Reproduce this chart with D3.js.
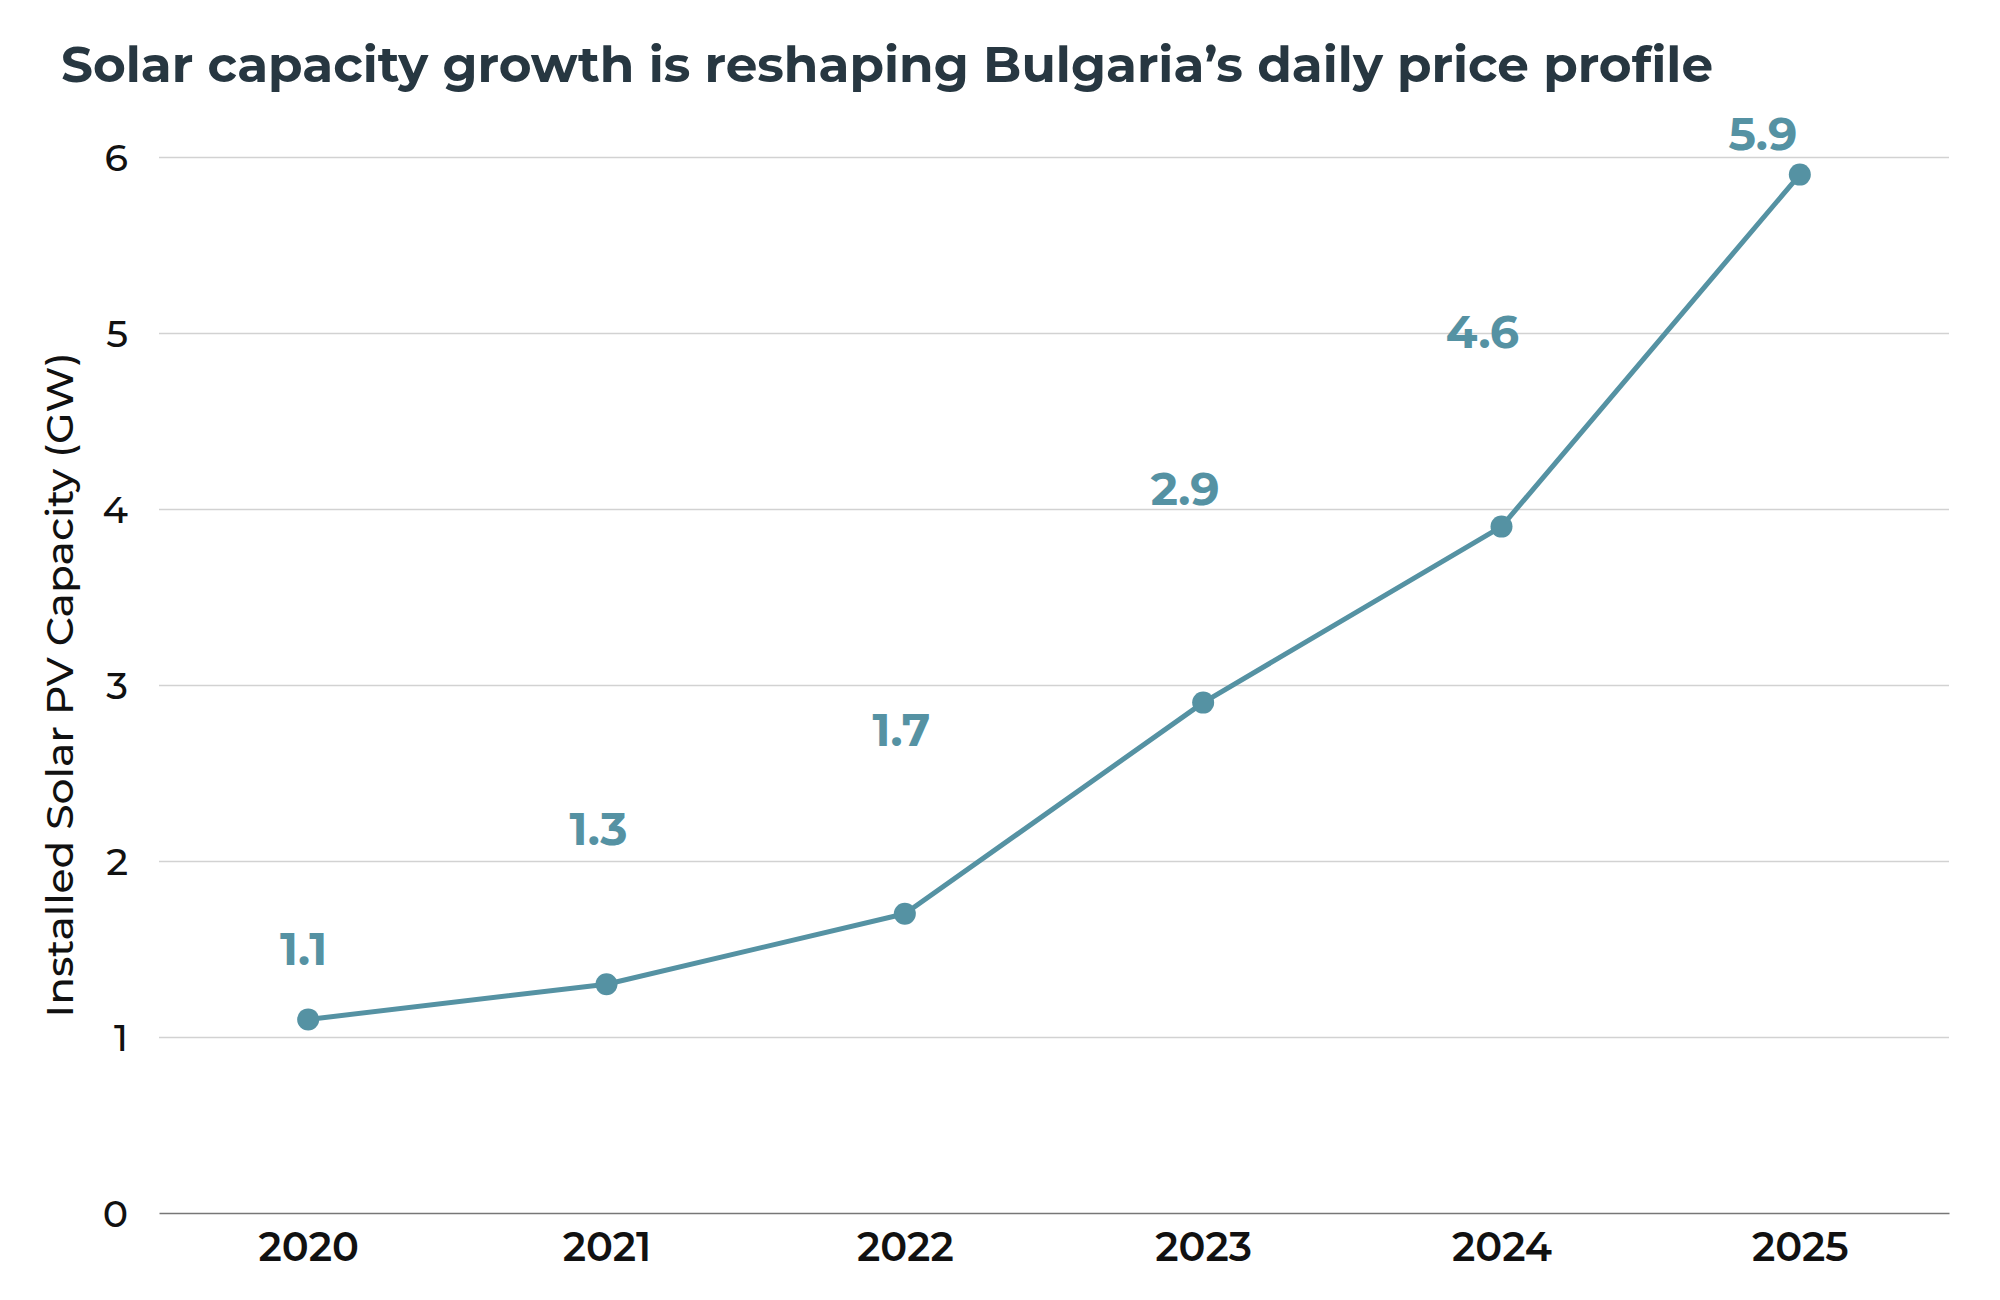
<!DOCTYPE html>
<html>
<head>
<meta charset="utf-8">
<script src="https://cdn.jsdelivr.net/npm/d3@7"></script>
<style>
  html, body { margin: 0; padding: 0; background: #ffffff; }
  svg { display: block; }
</style>
</head>
<body>
<svg id="chart" width="2000" height="1300"></svg>
<script>
// ---- data ----
const years = ["2020", "2021", "2022", "2023", "2024", "2025"];
const capacityGW = [1.1, 1.3, 1.7, 2.9, 3.9, 5.9];
const valueLabels = ["1.1", "1.3", "1.7", "2.9", "4.6", "5.9"];
const yTicks = [0, 1, 2, 3, 4, 5, 6];
const titleText = "Solar capacity growth is reshaping Bulgaria\u2019s daily price profile";
const yAxisTitle = "Installed Solar PV Capacity (GW)";

// annotation nudges (px) for value labels
const labelNudgeX = [-4.5, -8, -3.5, -18, -19, -37];
const labelNudgeY = [-54, -139, -168, -198, -179, -25];

// ---- layout ----
const plotL = 159, plotR = 1949, plotT = 157, plotB = 1213;
const lineColor = "#5592a3";
const font = "Montserrat, 'Noto Sans', 'Open Sans', sans-serif";

const svg = d3.select("#chart");

const x = d3.scalePoint().domain(years).range([plotL, plotR]).padding(0.5);
const y = d3.scaleLinear().domain([0, 6]).range([plotB, plotT]);

// title
svg.append("text")
  .attr("x", 61).attr("y", 82)
  .attr("font-family", font)
  .attr("font-weight", 700)
  .attr("font-size", 50)
  .attr("fill", "#273741")
  .attr("textLength", 1652)
  .attr("lengthAdjust", "spacingAndGlyphs")
  .text(titleText);

// y axis with gridlines
const gy = svg.append("g")
  .attr("transform", `translate(${plotL},0)`)
  .call(d3.axisLeft(y).tickValues(yTicks.filter(d => d > 0)).tickFormat(d3.format("d"))
    .tickSize(-(plotR - plotL)).tickPadding(31));
gy.select(".domain").remove();
gy.selectAll(".tick line").attr("stroke", "#d2d2d2").attr("stroke-width", 1.5);
gy.selectAll(".tick text")
  .attr("font-family", font).attr("font-size", 38).attr("font-weight", 500)
  .attr("fill", "#111").attr("dy", "0.36em");

// zero label (axis baseline)
svg.append("text")
  .attr("x", plotL - 31).attr("y", y(0)).attr("dy", "0.36em")
  .attr("text-anchor", "end")
  .attr("font-family", font).attr("font-size", 38).attr("font-weight", 500)
  .attr("fill", "#111")
  .text(yTicks[0]);

// x axis
const gx = svg.append("g")
  .attr("transform", `translate(0,${plotB})`)
  .call(d3.axisBottom(x).tickSize(0).tickPadding(0));
gx.select(".domain").attr("stroke", "#777").attr("stroke-width", 1.5);
gx.selectAll(".tick text")
  .attr("font-family", font).attr("font-size", 40).attr("font-weight", 600)
  .attr("fill", "#111").attr("y", 48).attr("dy", 0);

// y axis title
svg.append("text")
  .attr("transform", `translate(73,${(plotT + plotB) / 2}) rotate(-90)`)
  .attr("text-anchor", "middle")
  .attr("font-family", font).attr("font-size", 38).attr("font-weight", 500)
  .attr("fill", "#111")
  .attr("textLength", 665).attr("lengthAdjust", "spacingAndGlyphs")
  .text(yAxisTitle);

// line
const pts = years.map((yr, i) => ({ yr, v: capacityGW[i], lab: valueLabels[i], i }));
svg.append("path")
  .datum(pts)
  .attr("fill", "none")
  .attr("stroke", lineColor)
  .attr("stroke-width", 5)
  .attr("stroke-linejoin", "round")
  .attr("d", d3.line().x(d => x(d.yr)).y(d => y(d.v)));

svg.selectAll("circle.pt")
  .data(pts).enter().append("circle")
  .attr("class", "pt")
  .attr("cx", d => x(d.yr)).attr("cy", d => y(d.v)).attr("r", 11)
  .attr("fill", lineColor);

svg.selectAll("text.val")
  .data(pts).enter().append("text")
  .attr("class", "val")
  .attr("x", d => x(d.yr) + labelNudgeX[d.i])
  .attr("y", d => y(d.v) + labelNudgeY[d.i])
  .attr("text-anchor", "middle")
  .attr("font-family", font).attr("font-size", 46).attr("font-weight", 700)
  .attr("fill", lineColor)
  .text(d => d.lab);
</script>
</body>
</html>
